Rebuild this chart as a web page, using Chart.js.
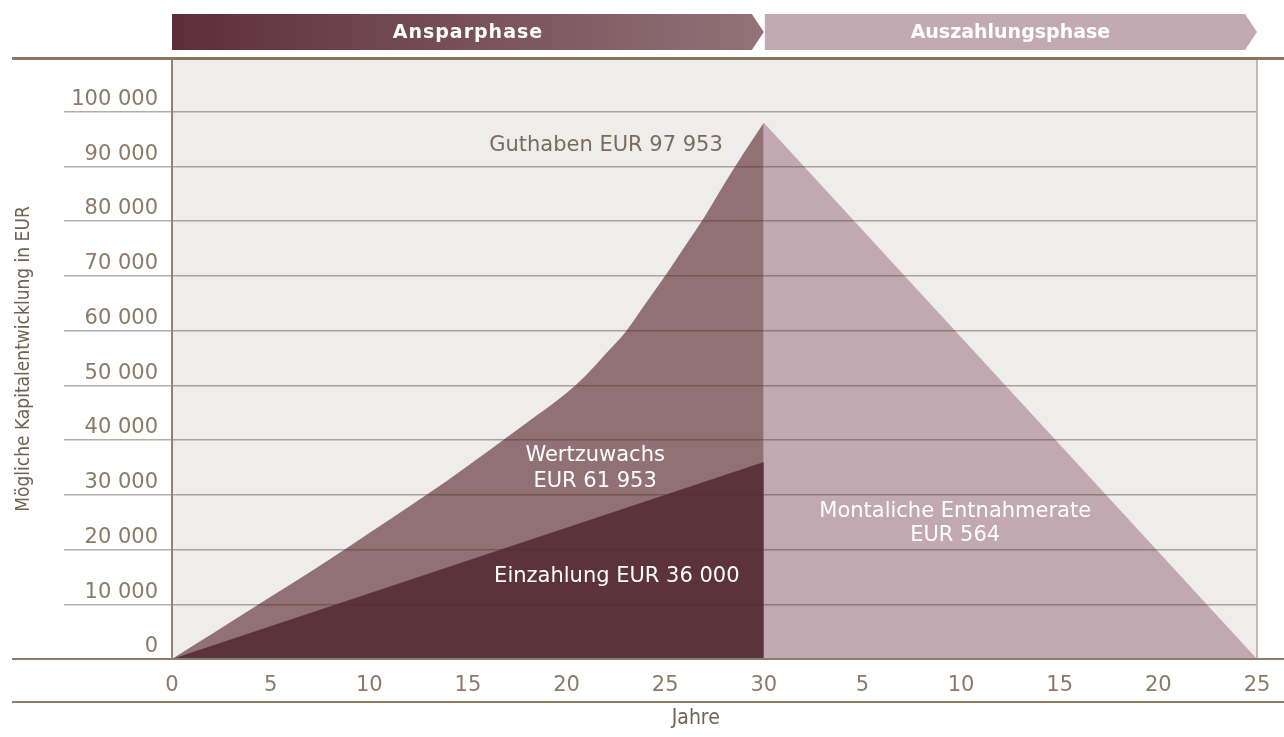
<!DOCTYPE html>
<html>
<head>
<meta charset="utf-8">
<script src="https://cdn.jsdelivr.net/npm/chart.js@4/dist/chart.umd.min.js"></script>
<style>
  body { margin: 0; background: #ffffff; }
  #wrap { width: 1284px; height: 737px; }
</style>
</head>
<body>
<div id="wrap"><canvas id="kapitalChart" width="1284" height="737"></canvas></div>
<script>
/* Werte */
var jahreGuthaben = [0, 2, 4, 6, 8, 10, 12, 14, 16, 18, 20, 21, 22, 23, 24, 25, 26, 27, 28, 29, 30];
var guthaben = [0, 4500, 9100, 13600, 18200, 23000, 27800, 32700, 37900, 43200, 48600, 51900, 55800, 59800, 64900, 70000, 75400, 80800, 86800, 92500, 97953];
var jahreEinzahlung = [0, 30];
var einzahlung = [0, 36000];
var jahreAuszahlung = [30, 55];
var auszahlung = [97953, 0];
var yTicks = [0, 10000, 20000, 30000, 40000, 50000, 60000, 70000, 80000, 90000, 100000];
var phasen = ['Ansparphase', 'Auszahlungsphase'];

var textFont = '"DejaVu Sans", "Open Sans", sans-serif';
var narrowFont = '"Liberation Sans Narrow", "DejaVu Sans Condensed", "Roboto", sans-serif';

/* Beschriftungen im Diagramm (Jahr, EUR) */
var notes = [
    { text: 'Guthaben EUR 97 953', x: 22.0, y: 93700, color: '#7a6c5a' },
    { text: 'Wertzuwachs', x: 21.45, y: 37100, color: '#ffffff' },
    { text: 'EUR 61 953', x: 21.45, y: 32400, color: '#ffffff' },
    { text: 'Einzahlung EUR 36 000', x: 22.55, y: 15000, color: '#ffffff' },
    { text: 'Montaliche Entnahmerate', x: 39.7, y: 26900, color: '#ffffff' },
    { text: 'EUR 564', x: 39.7, y: 22500, color: '#ffffff' }
];

function toPoints(xs, ys) {
    return xs.map(function (x, i) { return { x: x, y: ys[i] }; });
}
function formatEur(v) {
    return String(v).replace(/\B(?=(\d{3})+(?!\d))/g, ' ');
}

/* Hintergrund, Linien, Phasen und Texte */
var decoPlugin = {
    id: 'deco',
    beforeDraw: function (chart) {
        var ctx = chart.ctx, a = chart.chartArea;
        ctx.save();
        ctx.fillStyle = '#ffffff';
        ctx.fillRect(0, 0, chart.width, chart.height);
        ctx.fillStyle = '#eeedeb';
        ctx.fillRect(a.left, a.top, a.right - a.left, a.bottom - a.top);
        ctx.restore();
    },
    afterDraw: function (chart) {
        var ctx = chart.ctx, a = chart.chartArea;
        var xs = chart.scales.x, ys = chart.scales.y;
        var mid = xs.getPixelForValue(30);
        ctx.save();
        // rechte Begrenzung
        ctx.strokeStyle = '#c2bab1';
        ctx.lineWidth = 2;
        ctx.beginPath();
        ctx.moveTo(a.right, a.top);
        ctx.lineTo(a.right, a.bottom);
        ctx.stroke();
        // obere dicke Linie
        ctx.strokeStyle = '#8a7661';
        ctx.lineWidth = 3;
        ctx.beginPath();
        ctx.moveTo(12, a.top - 0.5);
        ctx.lineTo(chart.width, a.top - 0.5);
        ctx.stroke();
        // Nulllinie und untere Linie
        ctx.strokeStyle = '#8c7d6b';
        ctx.lineWidth = 2;
        ctx.beginPath();
        ctx.moveTo(12, a.bottom);
        ctx.lineTo(chart.width, a.bottom);
        ctx.moveTo(12, a.bottom + 43);
        ctx.lineTo(chart.width, a.bottom + 43);
        ctx.stroke();

        // Phasen-Pfeile
        var top = 14, bot = 50, tip = 12;
        var grad = ctx.createLinearGradient(a.left, 0, mid, 0);
        grad.addColorStop(0, '#5d2e3a');
        grad.addColorStop(1, '#937278');
        ctx.fillStyle = grad;
        ctx.beginPath();
        ctx.moveTo(a.left, top);
        ctx.lineTo(mid - tip, top);
        ctx.lineTo(mid, (top + bot) / 2);
        ctx.lineTo(mid - tip, bot);
        ctx.lineTo(a.left, bot);
        ctx.closePath();
        ctx.fill();
        ctx.fillStyle = '#c3a9b1';
        ctx.beginPath();
        ctx.moveTo(mid + 1, top);
        ctx.lineTo(a.right - tip, top);
        ctx.lineTo(a.right, (top + bot) / 2);
        ctx.lineTo(a.right - tip, bot);
        ctx.lineTo(mid + 1, bot);
        ctx.closePath();
        ctx.fill();
        ctx.fillStyle = '#ffffff';
        ctx.font = 'bold 19px ' + textFont;
        ctx.textAlign = 'center';
        ctx.textBaseline = 'middle';
        ctx.letterSpacing = '1px';
        ctx.fillText(phasen[0], (a.left + mid) / 2, (top + bot) / 2 + 1);
        ctx.letterSpacing = '0px';
        ctx.fillText(phasen[1], (mid + a.right) / 2, (top + bot) / 2 + 1);

        // Texte im Diagramm
        ctx.font = '21px ' + textFont;
        notes.forEach(function (n) {
            ctx.fillStyle = n.color;
            ctx.fillText(n.text, xs.getPixelForValue(n.x), ys.getPixelForValue(n.y));
        });

        // Achsentitel unten
        ctx.fillStyle = '#6f6354';
        ctx.font = '21px ' + narrowFont;
        ctx.fillText('Jahre', xs.getPixelForValue(26.55), a.bottom + 60);
        ctx.restore();
    }
};

var chartDiv = document.getElementById('kapitalChart');
var myChart = new Chart(chartDiv, {
    type: 'line',
    data: {
        datasets: [
            {
                label: 'Einzahlung',
                data: toPoints(jahreEinzahlung, einzahlung),
                backgroundColor: '#5d333b',
                borderColor: 'transparent',
                borderWidth: 0,
                pointRadius: 0,
                fill: 'origin'
            },
            {
                label: 'Guthaben',
                data: toPoints(jahreGuthaben, guthaben),
                backgroundColor: '#927175',
                borderColor: 'transparent',
                borderWidth: 0,
                pointRadius: 0,
                cubicInterpolationMode: 'monotone',
                fill: 'origin'
            },
            {
                label: 'Auszahlung',
                data: toPoints(jahreAuszahlung, auszahlung),
                backgroundColor: '#c2a8b1',
                borderColor: 'transparent',
                borderWidth: 0,
                pointRadius: 0,
                fill: 'origin'
            }
        ]
    },
    options: {
        responsive: false,
        animation: false,
        events: [],
        layout: {
            padding: { left: 0, top: 59, right: 27, bottom: 38 }
        },
        plugins: {
            legend: { display: false },
            tooltip: { enabled: false }
        },
        scales: {
            x: {
                type: 'linear',
                min: 0,
                max: 55,
                grid: { display: false },
                border: { display: false },
                ticks: {
                    stepSize: 5,
                    padding: 6,
                    color: '#8a7b68',
                    font: { family: textFont, size: 21 },
                    maxRotation: 0,
                    callback: function (v) { return v <= 30 ? v : v - 30; }
                },
                afterFit: function (scale) { scale.height = 40; }
            },
            y: {
                min: 0,
                max: 109600,
                afterBuildTicks: function (scale) {
                    scale.ticks = yTicks.map(function (v) { return { value: v }; });
                },
                grid: {
                    z: 1,
                    color: 'rgba(70, 50, 35, 0.4)',
                    lineWidth: 1.5,
                    tickLength: 108
                },
                border: { z: 1, color: '#8f8373', width: 2 },
                ticks: {
                    padding: -94,
                    labelOffset: -12,
                    color: '#8a7b68',
                    font: { family: textFont, size: 21 },
                    callback: function (v) { return formatEur(v); }
                },
                title: {
                    display: true,
                    text: 'Mögliche Kapitalentwicklung in EUR',
                    color: '#6f6354',
                    font: { family: narrowFont, size: 19 },
                    padding: { top: 13, bottom: 0 }
                },
                afterFit: function (scale) { scale.width = 172; }
            }
        }
    },
    plugins: [decoPlugin]
});
</script>
</body>
</html>
